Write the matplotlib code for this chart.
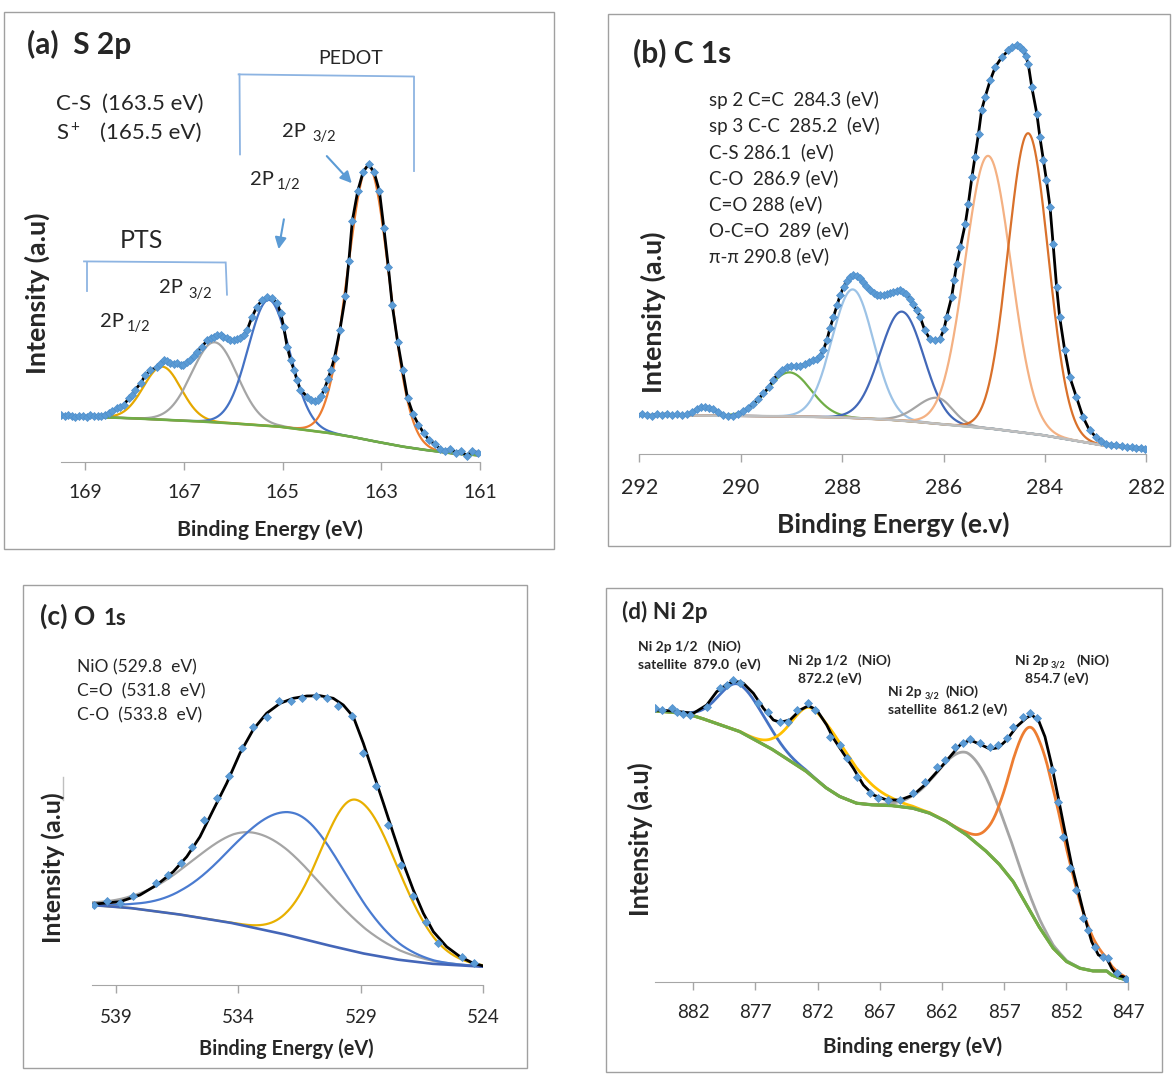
import numpy as np
import matplotlib
matplotlib.use("Agg")
import matplotlib.pyplot as plt
from matplotlib.lines import Line2D
from matplotlib.patches import Rectangle, FancyArrowPatch

plt.rcParams['font.family'] = ['Lato', 'DejaVu Sans']

# ---------------- (a) S 2p : intensities in a.u. ----------------
a_ticks = [169, 167, 165, 163, 161]
a_dot_e = [169.50, 169.42, 169.35, 169.27, 169.20, 169.12, 169.05, 168.97, 168.90, 168.83,
           168.75, 168.68, 168.60, 168.52, 168.45, 168.36, 168.29, 168.22, 168.12, 168.05,
           167.99, 167.88, 167.78, 167.68, 167.55, 167.48, 167.41, 167.34, 167.28, 167.21,
           167.14, 167.07, 167.01, 166.94, 166.87, 166.80, 166.73, 166.63, 166.53, 166.46,
           166.40, 166.33, 166.26, 166.20, 166.13, 166.06, 165.99, 165.92, 165.86, 165.79,
           165.72, 165.62, 165.52, 165.42, 165.31, 165.21, 165.11, 165.04, 164.98, 164.91,
           164.84, 164.77, 164.71, 164.64, 164.50, 164.42, 164.35, 164.28, 164.22, 164.15,
           164.08, 164.02, 163.95, 163.84, 163.73, 163.66, 163.59, 163.48, 163.37, 163.26,
           163.15, 163.04, 162.95, 162.86, 162.78, 162.67, 162.57, 162.47, 162.36, 162.25,
           162.14, 162.03, 161.92, 161.81, 161.71, 161.60, 161.49, 161.38, 161.27, 161.16,
           161.05]
a_dot_i = [46.5, 45.5, 46.8, 45.2, 44.6, 45.8, 46.0, 45.1, 46.3, 45.4,
           46.1, 45.6, 47.0, 49.0, 50.8, 53.4, 55.0, 56.7, 63.4, 66.7,
           71.7, 78.4, 86.7, 91.7, 94.4, 98.0, 101.7, 100.5, 98.4, 97.5,
           98.4, 97.0, 96.7, 99.5, 101.7, 106.0, 110.0, 115.0, 121.7, 124.0,
           125.0, 126.7, 126.7, 125.0, 123.4, 121.5, 121.7, 122.5, 123.4, 127.0,
           131.7, 145.0, 155.0, 161.7, 165.0, 163.4, 158.4, 148.4, 135.0, 115.0,
           101.7, 91.7, 81.7, 71.7, 65.0, 62.0, 61.0, 62.0, 66.0, 73.0,
           83.0, 92.0, 104.0, 132.0, 165.2, 200.3, 240.7, 270.5, 289.8, 297.5,
           289.8, 270.5, 233.6, 195.0, 156.4, 119.6, 91.5, 63.5, 47.7, 37.1,
           28.4, 21.3, 17.8, 12.6, 10.8, 12.6, 9.1, 10.8, 5.6, 10.8,
           9.1]
a_bg_e = [168.6, 168.0, 167.5, 167.0, 166.5, 166.0, 165.5, 165.0, 164.5, 164.0,
          163.5, 163.0, 162.5, 162.0, 161.5, 161.05]
a_bg_i = [44.4, 43.3, 42.2, 41.0, 39.8, 38.3, 36.6, 34.8, 31.5, 28.3,
          24.0, 19.0, 14.5, 11.0, 8.0, 6.5]
a_pk_c = [167.44, 166.38, 165.28, 163.26]
a_pk_h = [53, 80, 126, 274]
a_pk_s = [0.38, 0.46, 0.42, 0.42]
a_colors = ['#E5A800', '#A5A5A5', '#4472C4', '#ED7D31']

# ---------------- (b) C 1s ----------------
b_ticks = [292, 290, 288, 286, 284, 282]
b_dot_e = [292.15, 292.05, 291.95, 291.85, 291.75, 291.65, 291.55, 291.45, 291.35, 291.25,
           291.15, 291.05, 290.95, 290.87, 290.78, 290.70, 290.62, 290.54, 290.45, 290.35,
           290.25, 290.15, 290.05, 289.95, 289.85, 289.75, 289.65, 289.55, 289.45, 289.36,
           289.27, 289.18, 289.09, 289.00, 288.91, 288.83, 288.74, 288.65, 288.57, 288.50,
           288.44, 288.37, 288.30, 288.24, 288.17, 288.10, 288.04, 287.97, 287.91, 287.84,
           287.78, 287.71, 287.65, 287.58, 287.52, 287.45, 287.38, 287.31, 287.25, 287.18,
           287.12, 287.05, 286.99, 286.92, 286.86, 286.80, 286.73, 286.66, 286.60, 286.53,
           286.46, 286.37, 286.27, 286.17, 286.07, 285.99, 285.94, 285.84, 285.79, 285.74,
           285.67, 285.57, 285.51, 285.44, 285.38, 285.31, 285.25, 285.18, 285.08, 284.98,
           284.85, 284.72, 284.64, 284.56, 284.49, 284.43, 284.38, 284.33, 284.26, 284.16,
           284.10, 284.03, 283.97, 283.90, 283.84, 283.77, 283.71, 283.61, 283.51, 283.38,
           283.25, 283.12, 282.99, 282.89, 282.79, 282.69, 282.59, 282.49, 282.39, 282.29,
           282.20, 282.10, 282.02]
b_dot_i = [40.2, 39.0, 40.6, 39.4, 38.9, 40.3, 39.6, 40.8, 39.2, 40.0,
           39.5, 40.4, 42.0, 45.5, 47.0, 47.5, 46.8, 45.2, 42.0, 39.8,
           38.2, 38.8, 40.5, 43.0, 46.5, 50.5, 55.5, 61.0, 67.0, 74.0,
           80.5, 84.5, 87.3, 88.0, 88.2, 88.5, 90.0, 92.0, 94.0, 95.5,
           98.0, 104.5, 114.0, 126.0, 137.5, 149.0, 159.0, 167.5, 173.5, 177.5,
           179.0, 178.5, 176.5, 172.5, 168.5, 164.5, 161.5, 159.5, 159.0, 159.8,
           160.7, 161.5, 162.3, 163.5, 164.0, 162.5, 160.7, 155.5, 150.7, 144.0,
           137.3, 124.0, 115.7, 114.0, 115.7, 125.0, 137.3, 157.3, 174.0, 190.7,
           207.3, 230.7, 250.7, 277.3, 297.3, 320.7, 344.0, 357.3, 374.0, 387.3,
           397.3, 404.0, 407.5, 409.0, 407.5, 404.0, 398.5, 390.7, 367.3, 340.7,
           317.3, 294.0, 274.0, 247.3, 210.7, 167.3, 137.3, 104.0, 77.3, 57.3,
           37.3, 24.0, 17.3, 13.5, 10.7, 9.8, 9.0, 8.2, 7.3, 7.0,
           6.7, 6.2, 5.8]
b_bg_e = [292.2, 291.0, 290.0, 289.0, 288.0, 287.0, 286.46, 286.0, 285.0, 284.0, 282.85, 282.0]
b_bg_i = [39.5, 39.0, 38.5, 38.0, 37.0, 34.5, 32.3, 30.0, 25.5, 19.0, 9.0, 4.5]
b_pk_c = [290.72, 289.04, 287.79, 286.82, 286.12, 285.12, 284.33]
b_pk_h = [8.5, 44, 128.5, 109, 26, 272.5, 300]
b_pk_s_hi = [0.17, 0.43, 0.41, 0.43, 0.40, 0.455, 0.395]
b_pk_s_lo = [0.17, 0.43, 0.41, 0.43, 0.30, 0.455, 0.395]
b_colors = ['#C8C8C8', '#70AD47', '#9DC3E6', '#4268B8', '#A5A5A5', '#F4B183', '#D9712B']
b_labels = ['sp 2 C=C  284.3 (eV)', 'sp 3 C-C  285.2  (eV)', 'C-S 286.1  (eV)', 'C-O  286.9 (eV)',
            'C=O 288 (eV)', 'O-C=O  289 (eV)', 'π-π 290.8 (eV)']

# ---------------- (c) O 1s ----------------
c_ticks = [539, 534, 529, 524]
c_env_e = [539.99, 538.84, 538.02, 537.34, 536.66, 536.11, 535.57, 535.03, 534.48, 533.94,
           533.39, 532.85, 532.30, 531.76, 531.21, 530.67, 530.13, 529.72, 529.31, 528.90,
           528.49, 528.08, 527.68, 527.27, 526.86, 526.45, 526.04, 525.50, 524.95, 524.41, 524.0]
c_env_i = [80.7, 83.3, 90.0, 100.0, 113.3, 128.3, 148.3, 175.0, 201.7, 231.7,
           255.7, 271.7, 281.7, 286.7, 289.0, 289.3, 286.7, 280.0, 268.3, 241.7,
           211.7, 181.7, 151.7, 121.7, 95.0, 71.7, 53.3, 38.3, 28.3, 21.7, 19.0]
c_dot_e = [539.90, 539.38, 538.84, 538.32, 537.38, 536.86, 536.35, 535.91, 535.41, 534.86,
           534.37, 533.87, 533.39, 532.85, 532.33, 531.85, 531.39, 530.83, 530.40, 529.92,
           529.38, 528.90, 528.40, 527.88, 527.36, 526.86, 526.35, 525.86, 524.87, 524.38]
c_dot_i = [80.0, 83.7, 82.3, 89.0, 101.7, 110.0, 121.7, 138.3, 165.0, 186.7,
           209.0, 236.7, 258.3, 268.3, 284.3, 284.0, 287.3, 289.0, 287.3, 279.0,
           269.3, 232.3, 199.0, 160.0, 120.0, 89.0, 62.7, 41.7, 28.3, 21.7]
c_bg_e = [540.0, 538.3, 536.25, 534.2, 532.0, 530.1, 528.8, 527.4, 526.0, 524.0]
c_bg_i = [80.0, 76.7, 70.0, 61.7, 50.0, 38.3, 31.0, 25.0, 21.0, 18.3]
c_pk_c = [533.3, 531.75, 529.2]
c_pk_h = [95, 123.5, 152]
c_pk_s_hi = [2.5, 2.55, 1.45]
c_pk_s_lo = [2.75, 2.15, 1.7]
c_colors = ['#A5A5A5', '#4A7BD0', '#E8B000']
c_labels = ['NiO (529.8  eV)', 'C=O  (531.8  eV)', 'C-O  (533.8  eV)']

# ---------------- (d) Ni 2p ----------------
d_ticks = [882, 877, 872, 867, 862, 857, 852, 847]
d_env_e = [885.08, 883.61, 882.0, 880.92, 880.12, 879.31, 878.64, 877.97, 877.17, 876.36,
           875.56, 875.02, 874.22, 873.41, 872.74, 872.07, 871.27, 870.73, 869.93, 869.12,
           868.32, 867.52, 866.44, 865.37, 864.30, 863.23, 862.15, 861.35, 860.54, 859.74,
           858.93, 858.13, 857.46, 856.79, 855.99, 855.18, 854.78, 854.24, 853.71, 853.17,
           852.63, 852.10, 851.56, 851.02, 850.49, 849.95, 849.41, 848.74, 848.34, 847.94,
           847.40, 847.0]
d_env_i = [271.7, 270.7, 268.4, 276.7, 290.0, 297.4, 300.7, 298.4, 288.4, 273.4,
           261.7, 259.4, 261.7, 271.7, 276.0, 271.7, 256.7, 243.4, 228.4, 213.4,
           196.7, 186.7, 181.7, 181.7, 186.7, 198.4, 213.4, 225.0, 236.7, 241.7,
           237.4, 232.7, 234.0, 241.7, 255.0, 264.0, 266.7, 261.7, 245.0, 216.7,
           183.4, 150.0, 116.7, 90.0, 63.4, 40.0, 26.7, 23.4, 13.4, 6.7,
           5.0, 1.5]
d_dot_e = [885.08, 884.55, 883.74, 883.34, 882.80, 882.27, 880.92, 879.85, 879.31, 878.78,
           878.24, 876.77, 875.96, 875.02, 874.35, 873.68, 872.74, 872.21, 871.0, 870.20,
           869.66, 868.85, 867.78, 867.11, 866.31, 865.37, 864.30, 863.36, 862.42, 861.75,
           860.95, 860.28, 859.74, 858.93, 858.13, 857.46, 856.79, 856.26, 855.45, 854.91,
           854.38, 853.17, 852.63, 852.23, 851.69, 851.20, 850.62, 850.22, 849.68, 849.01,
           848.61, 847.94, 847.19]
d_dot_i = [273.4, 271.7, 273.4, 269.4, 267.4, 266.7, 275.0, 293.4, 296.7, 301.7,
           298.4, 278.4, 269.4, 260.0, 259.4, 271.7, 278.4, 271.7, 245.0, 236.7,
           223.4, 205.0, 188.4, 183.4, 181.7, 181.7, 188.4, 200.0, 215.0, 221.7,
           235.0, 238.4, 242.7, 238.4, 235.0, 236.7, 243.4, 255.0, 265.0, 268.4,
           263.4, 211.7, 180.0, 145.0, 113.4, 92.0, 63.4, 51.7, 35.0, 25.0,
           23.4, 8.4, 2.7]
d_bg_e = [885.08, 883.61, 882.0, 880.92, 878.24, 875.56, 872.88, 871.27, 870.20, 868.85,
          867.52, 865.91, 864.30, 862.96, 861.61, 860.0, 858.40, 857.33, 856.26, 855.18,
          854.11, 853.04, 851.96, 850.89, 849.82, 848.74, 848.34, 847.65, 847.13]
d_bg_i = [270.7, 269.4, 266.0, 261.7, 250.0, 231.7, 210.0, 193.4, 185.0, 178.4,
          176.7, 176.0, 173.4, 168.4, 160.0, 146.7, 130.0, 116.7, 100.0, 76.7,
          53.4, 33.4, 20.0, 13.4, 10.7, 10.7, 6.7, 3.4, 1.7]
d_pk_c = [878.35, 872.3, 859.7, 854.5]
d_pk_h = [47, 68, 83, 188]
d_pk_s_hi = [1.6, 1.75, 2.4, 1.9]
d_pk_s_lo = [2.0, 3.0, 2.6, 2.5]
d_colors = ['#4472C4', '#FFC000', '#A5A5A5', '#ED7D31']

# ---------------------------------------------------------------
W, H = 1175, 1074
fig = plt.figure(figsize=(W / 100, H / 100), dpi=100)
TXT = '#262626'
ARROW = '#5B9BD5'


def fx(x):
    return x / W


def fy(y):
    return 1 - y / H


def txt(x, y, s, size, bold=False, ha='left', rot=0):
    fig.text(fx(x), fy(y), s, fontsize=size, fontweight='bold' if bold else 'normal',
             ha=ha, va='center', rotation=rot, color=TXT)


def fline(xs, ys, color='#8DB4E2', lw=1.3):
    fig.add_artist(Line2D([fx(v) for v in xs], [fy(v) for v in ys],
                          transform=fig.transFigure, color=color, lw=lw))


def arrow(x0, y0, x1, y1):
    fig.add_artist(FancyArrowPatch((fx(x0), fy(y0)), (fx(x1), fy(y1)), transform=fig.transFigure,
                                   arrowstyle='-|>', mutation_scale=17, color=ARROW, lw=1.5,
                                   shrinkA=0, shrinkB=0))


def frame(x0, y0, x1, y1):
    fig.add_artist(Rectangle((fx(x0), fy(y1)), (x1 - x0) / W, (y1 - y0) / H,
                             transform=fig.transFigure, fill=False, ec='#A0A0A0', lw=1))


def panel(x0, x1, ybot, ytop, xlim, ticks, tsize, pad):
    ax = fig.add_axes([fx(x0), fy(ybot), (x1 - x0) / W, (ybot - ytop) / H])
    ax.set_xlim(*xlim)
    ax.set_ylim(0, ybot - ytop)
    ax.patch.set_alpha(0)
    for s in ('left', 'right', 'top'):
        ax.spines[s].set_visible(False)
    ax.spines['bottom'].set_color('#A6A6A6')
    ax.set_yticks([])
    ax.set_xticks(ticks)
    ax.tick_params(axis='x', length=6, width=1, color='#A6A6A6', labelsize=tsize,
                   labelcolor=TXT, pad=pad)
    return ax


def components(ax, bg_e, bg_i, cen, hgt, s_hi, s_lo, colors, bg_color, lw=1.6):
    be = np.array(bg_e)[::-1]
    bi = np.array(bg_i)[::-1]
    e = np.linspace(be[0], be[-1], 1200)
    base = np.interp(e, be, bi)
    for c, h, sh, sl, col in zip(cen, hgt, s_hi, s_lo, colors):
        s = np.where(e > c, sh, sl)
        ax.plot(e, base + h * np.exp(-(e - c) ** 2 / (2 * s ** 2)), color=col, lw=lw, zorder=2)
    ax.plot(e, base, color=bg_color, lw=lw + 0.3, zorder=2.5)


def data(ax, env_e, env_i, dot_e, dot_i, ms=4.0):
    ax.plot(env_e, env_i, color='black', lw=2.0, zorder=3)
    ax.plot(dot_e, dot_i, ls='none', marker='D', ms=ms, mfc='#5B9BD5', mec='#4F8FCC',
            mew=0.5, zorder=4)


# ---- frames
frame(4.3, 12.3, 553.6, 549)
frame(608, 14, 1170, 545.6)
frame(23.3, 585, 527, 1068.3)
frame(605.5, 588.3, 1162, 1072)

# ---- (a)
ax = panel(60.6, 480.1, 461.7, 20, (169.5, 161), a_ticks, 14, 10)
components(ax, a_bg_e, a_bg_i, a_pk_c, a_pk_h, a_pk_s, a_pk_s, a_colors, '#70AD47')
data(ax, a_dot_e, a_dot_i, a_dot_e, a_dot_i, ms=3.8)
txt(27, 44, '(a)  S 2p', 21.5, bold=True)
txt(318, 58, 'PEDOT', 14)
fline([238.6, 413.6], [74.4, 76.5])
fline([239.5, 240], [74.4, 154.4])
fline([413.6, 413.6], [76.5, 171.2])
txt(56.4, 103.5, 'C-S', 16)
txt(101.8, 103.5, '(163.5 eV)', 16)
txt(56.4, 133.3, 'S', 16)
txt(70.5, 126.5, '+', 11)
txt(100, 133.3, '(165.5 eV)', 16)
txt(282, 131.6, '2P', 14.5)
txt(312, 137, '3/2', 10.5)
arrow(326.8, 156.1, 351.8, 183.2)
txt(250, 179.6, '2P', 14.5)
txt(277, 185, '1/2', 10.5)
arrow(283.9, 219.3, 278.6, 249.1)
txt(119.6, 240.4, 'PTS', 18)
fline([84, 224.3], [261.4, 262.5])
fline([86.8, 86.8], [262, 291.2])
fline([225.7, 227], [262.5, 294.7])
txt(159, 288, '2P', 14.5)
txt(188, 293.5, '3/2', 10.5)
txt(100, 321.5, '2P', 14.5)
txt(127, 327, '1/2', 10.5)
txt(270, 530, 'Binding Energy (eV)', 15.3, bold=True, ha='center')
txt(37.5, 293, 'Intensity (a.u)', 19.4, bold=True, ha='center', rot=90)

# ---- (b)
ax = panel(639.2, 1146.4, 454.4, 20, (292, 282), b_ticks, 15.5, 11)
components(ax, b_bg_e, b_bg_i, b_pk_c, b_pk_h, b_pk_s_hi, b_pk_s_lo, b_colors, '#BFBFBF')
data(ax, b_dot_e, b_dot_i, b_dot_e, b_dot_i, ms=3.6)
txt(633, 52.6, '(b) C 1s', 21.5, bold=True)
for k, lab in enumerate(b_labels):
    txt(709, 100 + 26 * k, lab, 13.5)
txt(893, 524.6, 'Binding Energy (e.v)', 19, bold=True, ha='center')
txt(653, 312, 'Intensity (a.u)', 19.4, bold=True, ha='center', rot=90)

# ---- (c)
ax = panel(91.5, 483.35, 985, 600, (540, 524), c_ticks, 13.5, 11)
components(ax, c_bg_e, c_bg_i, c_pk_c, c_pk_h, c_pk_s_hi, c_pk_s_lo, c_colors, '#4466B8')
data(ax, c_env_e, c_env_i, c_dot_e, c_dot_i, ms=4.4)
txt(40, 616.7, '(c) O', 19, bold=True)
txt(103.3, 618.5, '1s', 16, bold=True)
for k, lab in enumerate(c_labels):
    txt(76.7, 667.7 + 24 * k, lab, 12.5)
fline([63.3, 63.3], [776.7, 800], color='#BFBFBF', lw=1)
txt(286, 1048.3, 'Binding Energy (eV)', 14.3, bold=True, ha='center')
txt(53.3, 868, 'Intensity (a.u)', 18, bold=True, ha='center', rot=90)

# ---- (d)
ax = panel(654.8, 1128.35, 981.7, 600, (885.1, 847), d_ticks, 13.5, 10)
components(ax, d_bg_e, d_bg_i, d_pk_c, d_pk_h, d_pk_s_hi, d_pk_s_lo, d_colors, '#70AD47', lw=2.0)
data(ax, d_env_e, d_env_i, d_dot_e, d_dot_i, ms=4.0)
txt(622, 611.7, '(d) Ni 2p', 16.3, bold=True)
txt(638.5, 646.7, 'Ni 2p 1/2   (NiO)', 10, bold=True)
txt(638.5, 664.3, 'satellite  879.0  (eV)', 10, bold=True)
txt(788.3, 661, 'Ni 2p 1/2   (NiO)', 10, bold=True)
txt(797.7, 678.3, '872.2 (eV)', 10, bold=True)
txt(888.3, 691.7, 'Ni 2p', 10, bold=True)
txt(925, 696, '3/2', 6.5, bold=True)
txt(946, 691.7, '(NiO)', 10, bold=True)
txt(888.3, 710, 'satellite  861.2 (eV)', 10, bold=True)
txt(1015, 661, 'Ni 2p', 10, bold=True)
txt(1050.7, 665.5, '3/2', 6.5, bold=True)
txt(1076.7, 661, '(NiO)', 10, bold=True)
txt(1025, 678.3, '854.7 (eV)', 10, bold=True)
txt(912.6, 1046.7, 'Binding energy (eV)', 14.8, bold=True, ha='center')
txt(640.3, 839, 'Intensity (a.u)', 18.4, bold=True, ha='center', rot=90)

fig.savefig('out.png', dpi=100)
